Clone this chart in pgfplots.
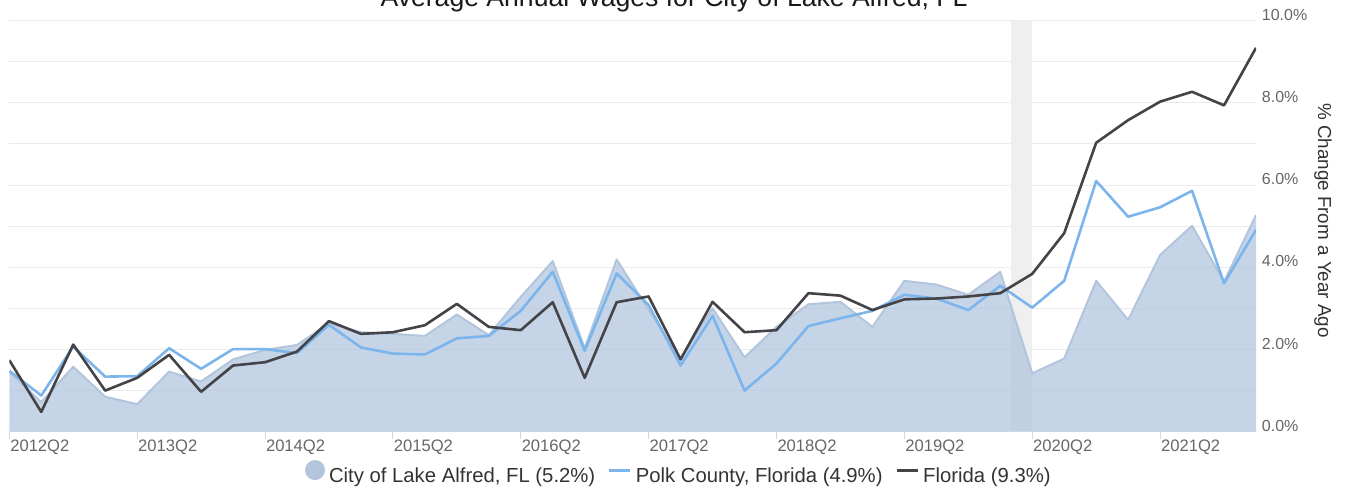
\documentclass[border=0pt]{standalone}
\usepackage{pgfplots}
\usepackage{pgfplotstable}
\pgfplotsset{compat=1.18}
\usepackage{fontspec}
\setmainfont{Liberation Sans}
\definecolor{areac}{HTML}{B0C4DE}
\definecolor{areaedge}{HTML}{B3C5DC}
\definecolor{polk}{HTML}{7CB5EC}
\definecolor{fla}{HTML}{434348}
\definecolor{gridc}{HTML}{EBEBEB}
\definecolor{axisc}{HTML}{CCD6EB}
\definecolor{labc}{HTML}{666666}
\definecolor{legc}{HTML}{333333}
\definecolor{bandc}{HTML}{EFEFEF}

\pgfplotstableread{
i city polk fl
0 1.45 1.48 1.74
1 0.72 0.88 0.48
2 1.58 2.07 2.12
3 0.85 1.34 1.00
4 0.67 1.35 1.31
5 1.46 2.03 1.87
6 1.22 1.53 0.97
7 1.76 2.01 1.61
8 1.99 2.01 1.69
9 2.11 1.91 1.95
10 2.64 2.60 2.69
11 2.42 2.05 2.38
12 2.38 1.90 2.42
13 2.33 1.88 2.59
14 2.85 2.27 3.11
15 2.35 2.33 2.55
16 3.28 2.94 2.47
17 4.15 3.89 3.15
18 2.03 1.97 1.31
19 4.19 3.85 3.15
20 2.96 3.08 3.29
21 1.78 1.61 1.76
22 3.00 2.82 3.16
23 1.81 1.00 2.42
24 2.55 1.66 2.47
25 3.10 2.57 3.37
26 3.16 2.76 3.31
27 2.55 2.94 2.96
28 3.67 3.33 3.22
29 3.58 3.24 3.24
30 3.33 2.96 3.29
31 3.89 3.55 3.37
32 1.42 3.02 3.84
33 1.78 3.67 4.83
34 3.67 6.10 7.03
35 2.72 5.23 7.58
36 4.30 5.46 8.03
37 5.01 5.86 8.27
38 3.65 3.61 7.94
39 5.27 4.91 9.34
}\data

\pgfplotstableread{
x y
31.33 10
32 10
}\band

\begin{document}
\begin{tikzpicture}
\path[use as bounding box] (0,0) rectangle (678pt,245pt);
\node[anchor=base, font=\fontsize{13.3}{16}\selectfont, text=black!90, inner sep=0pt] at (337pt,241.5pt) {Average Annual Wages for City of Lake Alfred, FL};
\begin{axis}[
  at={(4.65pt,29.15pt)}, anchor=south west,
  scale only axis, width=623.35pt, height=205.5pt,
  xmin=0, xmax=39, ymin=0, ymax=10,
  axis line style={draw=none},
  xtick={0,4,...,36},
  xticklabels={2012Q2,2013Q2,2014Q2,2015Q2,2016Q2,2017Q2,2018Q2,2019Q2,2020Q2,2021Q2},
  xtick pos=bottom,
  tick align=outside,
  major tick length=3.75pt,
  xtick style={draw=axisc, line width=0.5pt},
  xticklabel style={anchor=north west, inner sep=0pt, xshift=0.3pt, yshift=-0.2pt, font=\fontsize{8.3}{10}\selectfont, text=labc},
  ytick={0,1,...,10},
  yticklabels={0.0\%,,2.0\%,,4.0\%,,6.0\%,,8.0\%,,10.0\%},
  ytick pos=right,
  yticklabel pos=right,
  ytick style={draw=none},
  yticklabel style={anchor=base west, inner sep=0pt, xshift=-1pt, yshift=0.2pt, font=\fontsize{8}{10}\selectfont, text=labc},
  ymajorgrids,
  grid style={gridc, line width=0.5pt},
  legend columns=3,
  legend style={at={(0.2372,-0.1054)}, anchor=west, draw=none, fill=none, inner sep=0pt, outer sep=0pt,
    font=\fontsize{10.15}{12}\selectfont, text=legc,
    /tikz/every odd column/.append style={column sep=0pt},
    /tikz/every even column/.append style={column sep=4.3pt}},
  legend cell align=left,
]
\addplot[fill=bandc, draw=none, forget plot] table[x=x,y=y] {\band} \closedcycle;
\addplot[fill=areac, fill opacity=0.72, draw=none,
  legend image code/.code={\fill[areaedge, fill opacity=1] (5pt,3.5pt) circle (5pt);}]
  table[x=i,y=city] {\data} \closedcycle;
\addlegendentry{City of Lake Alfred, FL (5.2\%)}
\addplot[areaedge, line width=1pt, line join=round, forget plot] table[x=i,y=city] {\data};
\addplot[polk, line width=1.3pt, line join=round,
  legend image code/.code={\draw[polk, line width=1.5pt] (0pt,3.5pt) -- (10.5pt,3.5pt);}]
  table[x=i,y=polk] {\data};
\addlegendentry{Polk County, Florida (4.9\%)}
\addplot[fla, line width=1.3pt, line join=round,
  legend image code/.code={\draw[fla, line width=1.5pt] (0pt,3.5pt) -- (10.5pt,3.5pt);}]
  table[x=i,y=fl] {\data};
\addlegendentry{Florida (9.3\%)}
\draw[axisc, line width=0.5pt] (rel axis cs:0,0) -- (rel axis cs:1,0);
\end{axis}
\node[rotate=-90, font=\fontsize{9.4}{11}\selectfont, text=legc, inner sep=0pt] at (661.5pt,134.75pt) {\% Change From a Year Ago};
\end{tikzpicture}
\end{document}
